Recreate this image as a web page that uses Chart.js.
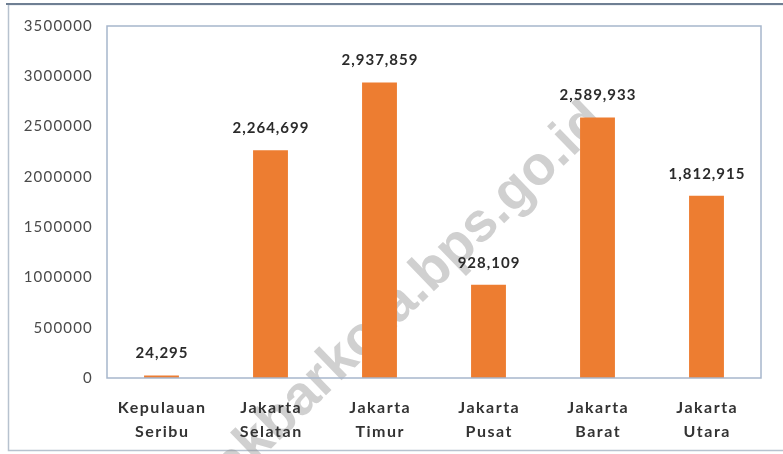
<!DOCTYPE html>
<html>
<head>
<meta charset="utf-8">
<script src="https://cdn.jsdelivr.net/npm/chart.js@4/dist/chart.umd.min.js"></script>
<style>
  html, body { margin: 0; padding: 0; background: #ffffff; }
  #wrap { width: 783px; height: 454px; position: relative; }
</style>
</head>
<body>
<div id="wrap"><canvas id="c" width="783" height="454"></canvas></div>
<script>
const categories = [["Kepulauan", "Seribu"], ["Jakarta", "Selatan"], ["Jakarta", "Timur"], ["Jakarta", "Pusat"], ["Jakarta", "Barat"], ["Jakarta", "Utara"]];
const population = [24295, 2264699, 2937859, 928109, 2589933, 1812915];
const valueLabels = ["24,295", "2,264,699", "2,937,859", "928,109", "2,589,933", "1,812,915"];
const yTicks = [0, 500000, 1000000, 1500000, 2000000, 2500000, 3000000, 3500000];
const watermark = "jakbarkota.bps.go.id";

const FONT = "Lato, 'Open Sans', 'DejaVu Sans', sans-serif";
const WM_FONT = "'Liberation Sans', Arial, sans-serif";

const framePlugin = {
  id: 'frame',
  beforeDraw(chart) {
    const ctx = chart.ctx;
    ctx.save();
    ctx.fillStyle = '#ffffff';
    ctx.fillRect(0, 0, chart.width, chart.height);
    ctx.strokeStyle = '#b7c2cf';
    ctx.lineWidth = 1.5;
    ctx.strokeRect(8.5, 4.5, chart.width + 10, chart.height - 8);
    ctx.strokeStyle = '#6f7f93';
    ctx.lineWidth = 2;
    ctx.beginPath();
    ctx.moveTo(6, 4);
    ctx.lineTo(chart.width, 4);
    ctx.stroke();
    ctx.restore();
    ctx.letterSpacing = '1.2px';
  },
  beforeDatasetsDraw(chart) {
    const ctx = chart.ctx;
    ctx.save();
    ctx.letterSpacing = '0px';
    ctx.font = "bold 100px " + WM_FONT;
    const wk = ctx.measureText("ja").width + ctx.measureText("k").width / 2;
    const wi = ctx.measureText("jakbarkota.bps.go.").width + ctx.measureText("i").width / 2;
    const s = 433 / (wi - wk);
    const fs = 100 * s;
    ctx.font = "bold " + fs.toFixed(1) + "px " + WM_FONT;
    ctx.translate(256, 443);
    ctx.rotate(-44 * Math.PI / 180);
    ctx.fillStyle = 'rgba(150,150,150,0.45)';
    ctx.textBaseline = 'alphabetic';
    ctx.textAlign = 'left';
    ctx.fillText(watermark, -wk * s, 0.26 * fs);
    ctx.restore();
  },
  afterDatasetsDraw(chart) {
    const ctx = chart.ctx;
    const a = chart.chartArea;
    ctx.save();
    ctx.strokeStyle = '#a7b6cc';
    ctx.lineWidth = 1.5;
    ctx.strokeRect(a.left, a.top, a.right - a.left, a.bottom - a.top);
    const meta = chart.getDatasetMeta(0);
    ctx.font = "bold 15px " + FONT;
    ctx.letterSpacing = '1px';
    ctx.fillStyle = '#2b2b2b';
    ctx.textAlign = 'center';
    ctx.textBaseline = 'middle';
    meta.data.forEach((bar, i) => {
      ctx.fillText(valueLabels[i], bar.x + 0.5, bar.y - 22);
    });
    const xs = chart.scales.x;
    ctx.font = "bold 16px " + FONT;
    ctx.letterSpacing = '1.5px';
    ctx.fillStyle = '#333333';
    categories.forEach((lines, i) => {
      const x = xs.getPixelForTick(i);
      lines.forEach((t, j) => ctx.fillText(t, x + 0.75, 408 + j * 24));
    });
    ctx.restore();
  }
};

new Chart(document.getElementById('c'), {
  type: 'bar',
  data: {
    labels: categories,
    datasets: [{
      data: population,
      backgroundColor: '#ED7D31',
      borderWidth: 0,
      barPercentage: 0.32,
      categoryPercentage: 1.0
    }]
  },
  options: {
    responsive: false,
    animation: false,
    layout: { padding: { left: 0, right: 22, top: 26, bottom: 0 } },
    plugins: { legend: { display: false }, tooltip: { enabled: false } },
    scales: {
      x: {
        grid: { display: false, drawTicks: false },
        border: { display: false },
        ticks: { display: false },
        afterFit(scale) { scale.height = 76; }
      },
      y: {
        min: 0,
        max: 3500000,
        grid: { display: false, drawTicks: false },
        border: { display: false },
        afterBuildTicks(scale) { scale.ticks = yTicks.map(v => ({ value: v })); },
        ticks: {
          font: { family: FONT, size: 15 },
          color: '#4a4a4a',
          padding: 14,
          callback: v => String(v)
        },
        afterFit(scale) { scale.width = 107; }
      }
    }
  },
  plugins: [framePlugin]
});
</script>
</body>
</html>
